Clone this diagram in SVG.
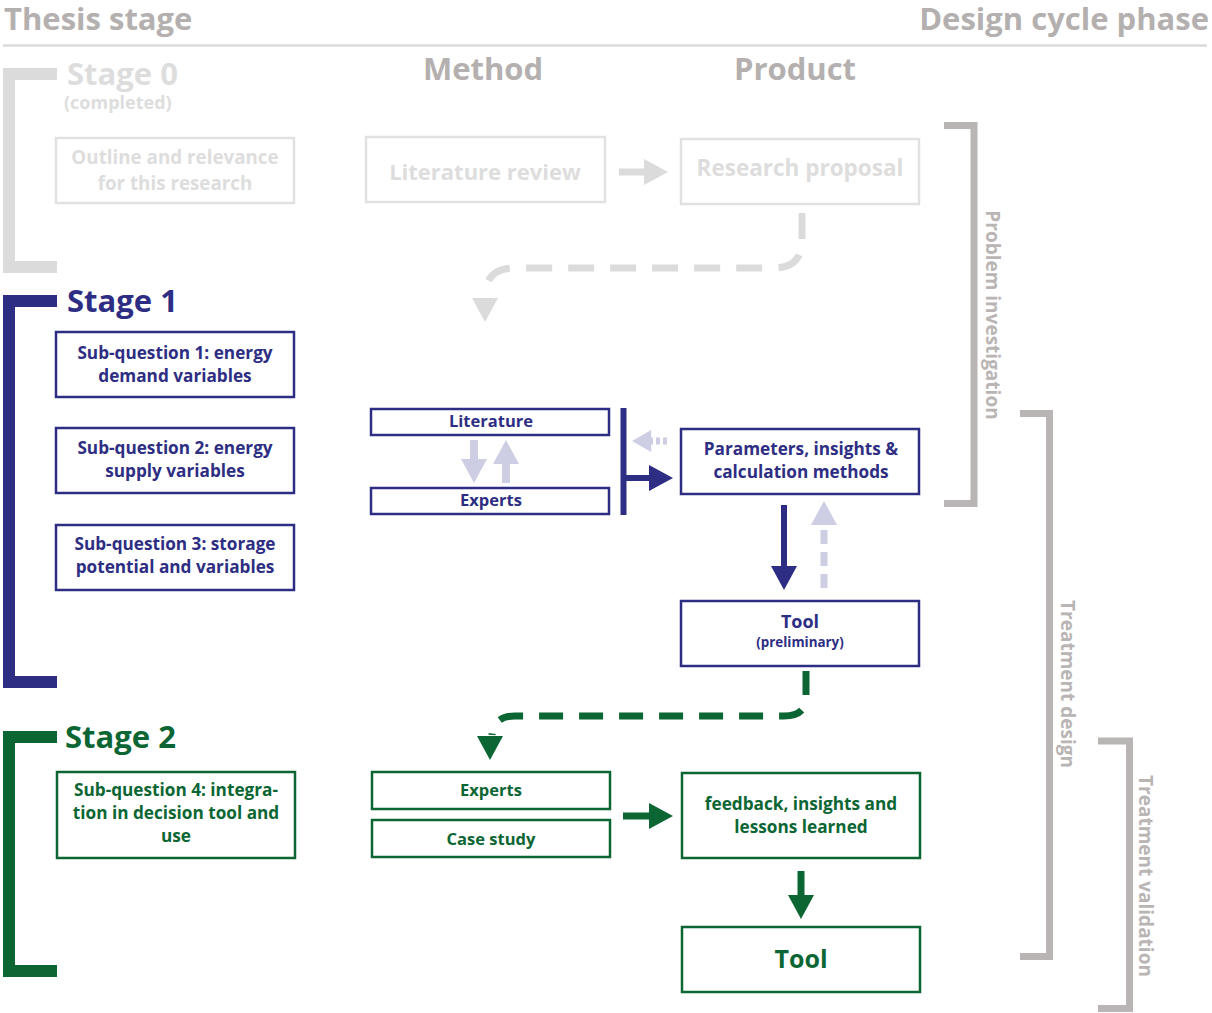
<svg xmlns="http://www.w3.org/2000/svg" xmlns:xlink="http://www.w3.org/1999/xlink" width="1212" height="1013" viewBox="0 0 1212 1013">
  <style>
    text { font-family: "Open Sans", "Noto Sans", "Liberation Sans", sans-serif; font-weight: 700; }
    .hdr { fill: #b4b0af; font-size: 31px; }
    .col { fill: #b4b0af; font-size: 31px; text-anchor: middle; }
    .phase { fill: #b9b5b4; font-size: 19px; text-anchor: middle; }
    .c { text-anchor: middle; }
    .s0 { fill: #dedddd; }
    .nv { fill: #2d2e83; }
    .gr { fill: #0b6633; }
    .box0 { fill: #fff; stroke: #e2e1e1; stroke-width: 2.5; }
    .boxN { fill: #fff; stroke: #2d2e83; stroke-width: 2.5; }
    .boxG { fill: #fff; stroke: #0b6633; stroke-width: 2.5; }
    .brk { fill: none; stroke-width: 12; }
    .pbrk { fill: none; stroke: #b9b5b4; stroke-width: 7; }
    .q { font-size: 17.2px; }
    .small { font-size: 16.5px; }
    .stage { font-size: 31px; }
  </style>
  <defs>
    <!-- arrowhead pointing down, tip at (0,0) -->
    <path id="head" d="M-13,-24 L13,-24 L0,0 Z"/>
  </defs>

  <!-- header -->
  <g id="header">
    <text class="hdr" x="4" y="30">Thesis stage</text>
    <text class="hdr" x="1209" y="30" text-anchor="end">Design cycle phase</text>
    <line x1="3" y1="45.5" x2="1207" y2="45.5" stroke="#dcdbdb" stroke-width="2.5"/>
    <text class="col" x="483" y="80">Method</text>
    <text class="col" x="795" y="80">Product</text>
  </g>

  <!-- stage brackets -->
  <g id="stage0">
    <path class="brk" stroke="#dcdbdb" d="M57,74 H9 V267 H57"/>
    <text class="s0 stage" x="67" y="85">Stage 0</text>
    <text class="s0" x="64" y="109" font-size="18">(completed)</text>
  </g>
  <g id="stage1">
    <path class="brk" stroke="#2d2e83" d="M57,301 H9 V682 H57"/>
    <text class="nv stage" x="67" y="312">Stage 1</text>
  </g>
  <g id="stage2">
    <path class="brk" stroke="#0b6633" d="M57,737 H9 V971 H57"/>
    <text class="gr stage" x="65" y="748">Stage 2</text>
  </g>

  <!-- design cycle phases -->
  <g id="phase-problem">
    <path class="pbrk" d="M944,125.5 H974 V503.5 H944"/>
    <text class="phase" transform="translate(986,315) rotate(90)">Problem investigation</text>
  </g>
  <g id="phase-design">
    <path class="pbrk" d="M1020,413.5 H1049.5 V956.5 H1020"/>
    <text class="phase" transform="translate(1061,684) rotate(90)">Treatment design</text>
  </g>
  <g id="phase-validation">
    <path class="pbrk" d="M1098,741 H1129.5 V1008.5 H1098"/>
    <text class="phase" transform="translate(1139,876) rotate(90)">Treatment validation</text>
  </g>

  <!-- stage 0 nodes -->
  <g id="outline">
    <rect class="box0" x="56" y="138" width="238" height="65"/>
    <text class="s0 c" x="175" y="164" font-size="18.8">Outline and relevance</text>
    <text class="s0 c" x="175" y="190" font-size="18.8">for this research</text>
  </g>
  <g id="literature-review">
    <rect class="box0" x="366" y="137" width="239" height="65"/>
    <text class="s0 c" x="485" y="180" font-size="22">Literature review</text>
  </g>
  <g id="research-proposal">
    <rect class="box0" x="681" y="139" width="238" height="65"/>
    <text class="s0 c" x="800" y="176" font-size="22.5">Research proposal</text>
  </g>

  <!-- stage 1 nodes -->
  <g id="sq1">
    <rect class="boxN" x="56" y="332" width="238" height="65"/>
    <text class="nv c q" x="175" y="359">Sub-question 1: energy</text>
    <text class="nv c q" x="175" y="382">demand variables</text>
  </g>
  <g id="sq2">
    <rect class="boxN" x="56" y="428" width="238" height="65"/>
    <text class="nv c q" x="175" y="454">Sub-question 2: energy</text>
    <text class="nv c q" x="175" y="477">supply variables</text>
  </g>
  <g id="sq3">
    <rect class="boxN" x="56" y="525" width="238" height="65"/>
    <text class="nv c q" x="175" y="550">Sub-question 3: storage</text>
    <text class="nv c q" x="175" y="573">potential and variables</text>
  </g>
  <g id="literature">
    <rect class="boxN" x="371" y="409" width="238" height="26"/>
    <text class="nv c small" x="491" y="427">Literature</text>
  </g>
  <g id="experts1">
    <rect class="boxN" x="371" y="488" width="238" height="26"/>
    <text class="nv c small" x="491" y="506">Experts</text>
  </g>
  <g id="parameters">
    <rect class="boxN" x="681" y="429" width="238" height="65"/>
    <text class="nv c q" x="801" y="455">Parameters, insights &amp;</text>
    <text class="nv c q" x="801" y="478">calculation methods</text>
  </g>
  <g id="tool-preliminary">
    <rect class="boxN" x="681" y="601" width="238" height="65"/>
    <text class="nv c" x="800" y="628" font-size="18">Tool</text>
    <text class="nv c" x="800" y="647" font-size="13.4">(preliminary)</text>
  </g>

  <!-- stage 2 nodes -->
  <g id="sq4">
    <rect class="boxG" x="57" y="772" width="238" height="86"/>
    <text class="gr c q" x="176" y="796">Sub-question 4: integra-</text>
    <text class="gr c q" x="176" y="819">tion in decision tool and</text>
    <text class="gr c q" x="176" y="842">use</text>
  </g>
  <g id="experts2">
    <rect class="boxG" x="372" y="772" width="238" height="37"/>
    <text class="gr c small" x="491" y="796">Experts</text>
  </g>
  <g id="case-study">
    <rect class="boxG" x="372" y="820" width="238" height="37"/>
    <text class="gr c small" x="491" y="845">Case study</text>
  </g>
  <g id="feedback">
    <rect class="boxG" x="682" y="773" width="238" height="85"/>
    <text class="gr c q" x="801" y="810">feedback, insights and</text>
    <text class="gr c q" x="801" y="833">lessons learned</text>
  </g>
  <g id="tool">
    <rect class="boxG" x="682" y="927" width="238" height="65"/>
    <text class="gr c" x="801" y="968" font-size="25">Tool</text>
  </g>

  <!-- connectors -->
  <g id="connectors">
    <!-- literature review to research proposal -->
    <line x1="619" y1="172" x2="648" y2="172" stroke="#dcdbdb" stroke-width="7"/>
    <use xlink:href="#head" fill="#dcdbdb" transform="translate(668,172) rotate(-90)"/>

    <!-- research proposal to stage 1 -->
    <path d="M802,213 V240 Q802,268 774,268 H515 Q487,268 486,292" fill="none" stroke="#dcdbdb" stroke-width="7" stroke-dasharray="26,16"/>
    <use xlink:href="#head" fill="#dcdbdb" transform="translate(485,322)"/>

    <!-- literature <-> experts -->
    <line x1="474" y1="440" x2="474" y2="462" stroke="#cdcde3" stroke-width="8"/>
    <use xlink:href="#head" fill="#cdcde3" transform="translate(474,483)"/>
    <line x1="506" y1="483" x2="506" y2="461" stroke="#cdcde3" stroke-width="8"/>
    <use xlink:href="#head" fill="#cdcde3" transform="translate(506,440) rotate(180)"/>

    <!-- bar joining literature and experts, arrow to parameters -->
    <line x1="623.5" y1="408" x2="623.5" y2="515" stroke="#2d2e83" stroke-width="6"/>
    <line x1="623" y1="478" x2="652" y2="478" stroke="#2d2e83" stroke-width="6"/>
    <use xlink:href="#head" fill="#2d2e83" transform="translate(673,478) rotate(-90)"/>

    <!-- feedback from parameters to methods (dashed) -->
    <path d="M667,441 H650" stroke="#cdcde3" stroke-width="7" stroke-dasharray="4,3"/>
    <use xlink:href="#head" fill="#cdcde3" transform="translate(632,441) rotate(90) scale(0.85,0.8)"/>

    <!-- parameters to tool (preliminary) -->
    <line x1="784" y1="505" x2="784" y2="567" stroke="#2d2e83" stroke-width="6"/>
    <use xlink:href="#head" fill="#2d2e83" transform="translate(784,590)"/>

    <!-- tool (preliminary) back to parameters (dashed) -->
    <path d="M824,588 V524" stroke="#cdcde3" stroke-width="7" stroke-dasharray="14,8"/>
    <use xlink:href="#head" fill="#cdcde3" transform="translate(824,501) rotate(180)"/>

    <!-- tool (preliminary) to stage 2 -->
    <path d="M806,671 V697 Q806,716 784,716 H515 Q494,716 492,735" fill="none" stroke="#0b6633" stroke-width="7" stroke-dasharray="24,16"/>
    <use xlink:href="#head" fill="#0b6633" transform="translate(490,760)"/>

    <!-- experts / case study to feedback -->
    <line x1="623" y1="816" x2="652" y2="816" stroke="#0b6633" stroke-width="7"/>
    <use xlink:href="#head" fill="#0b6633" transform="translate(673,816) rotate(-90)"/>

    <!-- feedback to tool -->
    <line x1="801" y1="871" x2="801" y2="896" stroke="#0b6633" stroke-width="7"/>
    <use xlink:href="#head" fill="#0b6633" transform="translate(801,919)"/>
  </g>
</svg>
